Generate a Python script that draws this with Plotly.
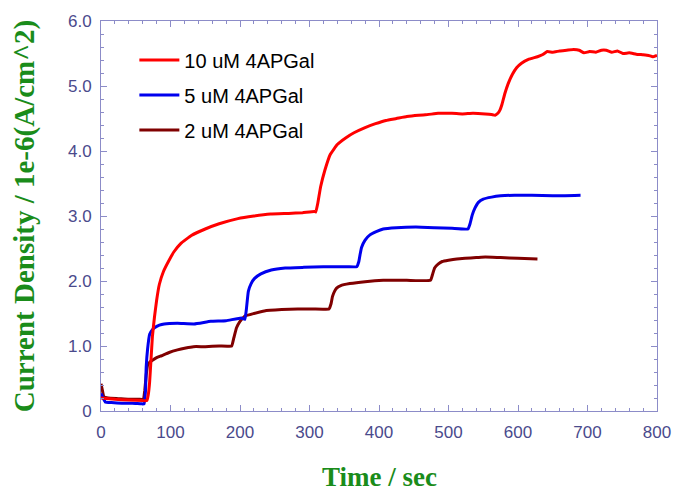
import plotly.graph_objects as go

# 10 uM 4APGal (red)
t_10 = [0, 20, 40, 60, 66, 68, 70, 72, 74, 77, 80, 84, 90, 98, 105, 115, 130, 150, 170, 197, 220, 244, 270, 290, 307, 309,
        312, 316, 322, 330, 340, 352, 364, 380, 395, 410, 425, 440, 457, 470, 485, 505, 520, 535, 553, 562, 567,
        571, 574, 577, 581, 586, 592, 598, 605, 615, 628, 635, 642, 650, 660, 670, 680, 688, 695, 703, 712, 720, 727,
        735, 743, 751, 760, 770, 780, 788, 794, 800]
v_10 = [0.20, 0.18, 0.17, 0.16, 0.16, 0.25, 0.45, 0.80, 1.15, 1.45, 1.70, 1.95, 2.15, 2.32, 2.45, 2.58, 2.70, 2.80, 2.88, 2.96, 3.00, 3.03, 3.04, 3.05, 3.07, 3.06,
        3.20, 3.45, 3.70, 3.95, 4.10, 4.20, 4.28, 4.36, 4.42, 4.47, 4.50, 4.53, 4.55, 4.56, 4.58, 4.58, 4.57, 4.58, 4.57, 4.56, 4.55,
        4.58, 4.63, 4.72, 4.88, 5.04, 5.18, 5.28, 5.35, 5.41, 5.45, 5.48, 5.53, 5.52, 5.54, 5.55, 5.56, 5.55, 5.51, 5.53, 5.52, 5.55, 5.55,
        5.52, 5.54, 5.50, 5.51, 5.49, 5.48, 5.47, 5.45, 5.47]

# 5 uM 4APGal (blue)
t_5 = [0, 3, 6, 15, 30, 45, 58, 62, 64, 65, 67, 70, 74, 77, 84, 91, 110, 134, 158, 180, 202, 207, 209, 212, 216, 221, 230, 245,
       265, 292, 320, 339, 355, 368, 371, 373, 375, 380, 387, 396, 406, 425, 453, 480, 505, 528, 531, 534, 538, 543, 550, 562,
       575, 595, 620, 650, 690]
v_5 = [0.27, 0.20, 0.14, 0.13, 0.12, 0.12, 0.11, 0.11, 0.30, 0.67, 0.95, 1.18, 1.25, 1.28, 1.32, 1.34, 1.35, 1.34, 1.38, 1.39, 1.43, 1.41, 1.55, 1.84, 1.96, 2.04, 2.11, 2.17,
       2.20, 2.21, 2.22, 2.22, 2.22, 2.22, 2.30, 2.42, 2.52, 2.63, 2.71, 2.76, 2.80, 2.82, 2.83, 2.82, 2.81, 2.80, 2.88, 3.01, 3.12, 3.21, 3.26, 3.29,
       3.31, 3.32, 3.32, 3.31, 3.32]

# 2 uM 4APGal (dark red)
t_2 = [0, 2, 4, 10, 25, 40, 55, 61, 63, 65, 67, 70, 74, 80, 87, 98, 110, 122, 133, 150, 170, 188, 191, 195, 200, 207, 220, 235,
       260, 283, 305, 328, 331, 333, 336, 339, 345, 358, 380, 406, 440, 474, 477, 480, 485, 491, 500, 512, 524, 540, 553, 575,
       600, 628]
v_2 = [0.42, 0.32, 0.22, 0.20, 0.19, 0.18, 0.18, 0.18, 0.32, 0.55, 0.70, 0.75, 0.78, 0.82, 0.85, 0.90, 0.94, 0.97, 0.99, 0.99, 1.00, 1.00, 1.12, 1.28, 1.38, 1.46, 1.50, 1.54,
       1.56, 1.57, 1.57, 1.57, 1.65, 1.76, 1.84, 1.89, 1.93, 1.96, 1.99, 2.01, 2.01, 2.01, 2.10, 2.20, 2.26, 2.30, 2.32, 2.34, 2.35, 2.36, 2.37, 2.36,
       2.35, 2.34]

names = ["2 uM 4APGal", "5 uM 4APGal", "10 uM 4APGal"]
colors = ["#800000", "#0000ee", "#ff0000"]
ranks = [3, 2, 1]

x_ticks = [0, 100, 200, 300, 400, 500, 600, 700, 800]
x_tick_labels = ["0", "100", "200", "300", "400", "500", "600", "700", "800"]
y_ticks = [0, 1, 2, 3, 4, 5, 6]
y_tick_labels = ["0", "1.0", "2.0", "3.0", "4.0", "5.0", "6.0"]

fig = go.Figure()
for t, v, n, c, r in zip([t_2, t_5, t_10], [v_2, v_5, v_10], names, colors, ranks):
    fig.add_trace(go.Scatter(x=t, y=v, mode="lines", name=n, legendgroup=n, legendrank=r,
                             line=dict(color=c, width=3, shape="spline", smoothing=0.3)))

axis_col = "#8c8cc8"
tick_font = dict(family="Liberation Sans, Arial", size=17, color="#4a4a8c")
x_title_font = dict(family="Liberation Serif, Times New Roman", size=27, color="#1a8c1a")
y_title_font = dict(family="Liberation Serif, Times New Roman", size=29, color="#1a8c1a")

fig.update_xaxes(range=[0, 800], tickvals=x_ticks, ticktext=x_tick_labels, showgrid=False, zeroline=False,
                 showline=True, linecolor=axis_col, linewidth=1, mirror="ticks", ticks="inside", ticklen=6,
                 tickcolor=axis_col, tickfont=tick_font, ticklabelstandoff=6,
                 minor=dict(dtick=20, ticks="inside", ticklen=3, tickcolor=axis_col))
fig.update_yaxes(range=[0, 6], tickvals=y_ticks, ticktext=y_tick_labels, showgrid=False, zeroline=False,
                 showline=True, linecolor=axis_col, linewidth=1, mirror="ticks", ticks="inside", ticklen=6,
                 tickcolor=axis_col, tickfont=tick_font, ticklabelstandoff=5,
                 minor=dict(dtick=0.2, ticks="inside", ticklen=3, tickcolor=axis_col),
                 title=dict(text="<b>Current Density / 1e-6(A/cm^2)</b>", font=y_title_font, standoff=24))

fig.add_annotation(text="<b>Time / sec</b>", xref="paper", yref="paper", x=0.5, y=-0.170,
                   xanchor="center", yanchor="middle", showarrow=False, font=x_title_font)

fig.update_layout(width=683, height=497, margin=dict(l=101, r=20, t=17, b=86),
                  plot_bgcolor="white", paper_bgcolor="white",
                  legend=dict(x=0.060, y=0.95, xanchor="left", yanchor="top", traceorder="grouped",
                              tracegroupgap=6, itemwidth=40, bgcolor="rgba(0,0,0,0)",
                              font=dict(family="Liberation Sans, Arial", size=20, color="black")))

fig.write_html("out.html")
